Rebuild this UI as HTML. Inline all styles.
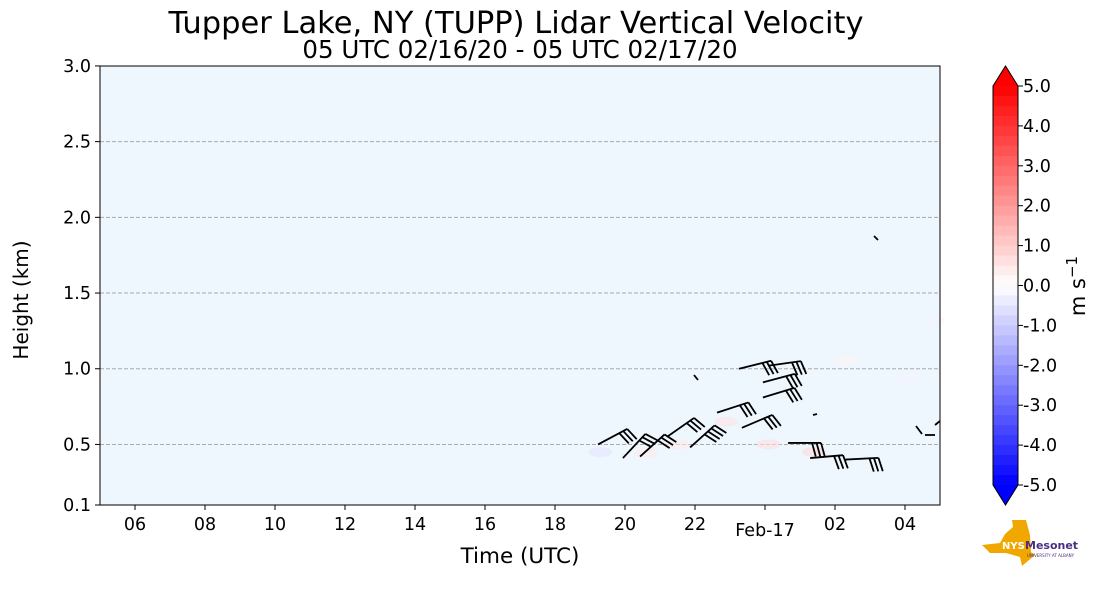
<!DOCTYPE html>
<html><head><meta charset="utf-8"><style>
body{margin:0;background:#fff;width:1101px;height:600px;overflow:hidden;font-family:"Liberation Sans","DejaVu Sans",sans-serif}
svg text{font-family:"DejaVu Sans","Liberation Sans",sans-serif}
</style></head><body>
<svg id="c" width="1101" height="600" xmlns="http://www.w3.org/2000/svg">
<text x="516" y="33" text-anchor="middle" font-size="30.5">Tupper Lake, NY (TUPP) Lidar Vertical Velocity</text>
<text x="520" y="58" text-anchor="middle" font-size="24.5">05 UTC 02/16/20 - 05 UTC 02/17/20</text>
<rect x="100" y="66" width="840" height="439" fill="#eef6fe"/>
<g id="grid"></g>
<g id="blobs"></g>
<g id="barbs"></g>
<rect x="100" y="66" width="840" height="439" fill="none" stroke="#000" stroke-width="1"/>
<g id="axes"></g>
<text x="520" y="563" text-anchor="middle" font-size="21.5">Time (UTC)</text>
<text transform="translate(28,300) rotate(-90)" text-anchor="middle" font-size="20">Height (km)</text>
<g id="cbar"></g>
<text transform="translate(1085,286) rotate(-90)" text-anchor="middle" font-size="21">m s<tspan dy="-8" font-size="15">−1</tspan></text>
<g>
<polygon points="982,545 1000,543 1005,534 1013,527 1012,520 1026,520 1030,535 1031,552 1035,555 1022,566 1020,557 1006,553 990,553" fill="#f0a800"/>
<text x="1002" y="549" font-size="10" font-weight="bold" fill="#fff">NYS</text>
<text x="1025" y="549" font-size="11" font-weight="bold" fill="#4b2e83">Mesonet</text>
<text x="1027" y="557" font-size="4" fill="#4b2e83">UNIVERSITY AT ALBANY</text>
</g>
</svg>
<script>
const NS="http://www.w3.org/2000/svg";
const xTicks=["06","08","10","12","14","16","18","20","22","Feb-17","02","04"];
const xTickHours=[1,3,5,7,9,11,13,15,17,19,21,23];
const yTicks=[0.1,0.5,1.0,1.5,2.0,2.5,3.0];
const cbTicks=[5,4,3,2,1,0,-1,-2,-3,-4,-5];
// wind barbs: hours since 05 UTC, height km, shaft direction (deg), speed (kt)
const barbTime=[14.23,14.94,15.43,16.2,16.86,17.63,18.34,18.94,18.94,18.26,19.09,20.29,19.66,21.3];
const barbHeight=[0.50,0.41,0.42,0.55,0.48,0.71,0.61,0.81,0.91,1.00,1.02,0.41,0.51,0.40];
const barbDir=[-28,-47,-42,-35,-42,-18,-23,-17,-15,-14,-8,-5,0,-3];
const barbSpeed=[25,25,25,25,35,30,25,30,30,25,30,30,25,30];
// velocity patches: time, height, velocity m/s
const blobTime=[14.3,15.6,16.5,17.9,19.1,20.4,23.1,23.8,21.3];
const blobHeight=[0.45,0.44,0.5,0.65,0.5,0.45,0.93,1.32,1.05];
const blobVel=[-0.5,0.4,0.4,0.5,0.6,0.7,-0.2,-0.2,0.2];
const X=t=>100+t*35, Y=h=>505-(h-0.1)*151.4;
function el(tag,a,p){const e=document.createElementNS(NS,tag);for(const k in a)e.setAttribute(k,a[k]);p.appendChild(e);return e;}
const g=document.getElementById('grid'),ax=document.getElementById('axes');
yTicks.forEach(v=>{
 if(v>0.1&&v<3){const l=el('line',{x1:100,x2:940,y1:Y(v),y2:Y(v),stroke:'#aaa','stroke-dasharray':'4,2','stroke-width':1},g);
 
 }
 el('line',{x1:95,x2:100,y1:Y(v),y2:Y(v),stroke:'#000'},ax);
 const t=el('text',{x:91,y:Y(v)+6,'text-anchor':'end','font-size':17.5},ax);t.textContent=v.toFixed(1);
 
 
});
xTicks.forEach((s,i)=>{
 const x=X(xTickHours[i]);
 el('line',{x1:x,x2:x,y1:505,y2:510,stroke:'#000'},ax);
 const t=el('text',{x:x,y:s.length>2?536:530,'text-anchor':'middle','font-size':17.5},ax);t.textContent=s;
 
 
});
function bwr(v){let f=(v+5)/10;f=Math.max(0,Math.min(1,f));let r,gg,b;
 if(f<0.5){r=gg=Math.round(255*f*2);b=255;}else{r=255;gg=b=Math.round(255*(1-f)*2);}return `rgb(${r},${gg},${b})`;}
const bl=document.getElementById('blobs');
blobTime.forEach((t,i)=>{const e=el('ellipse',{cx:X(t),cy:Y(blobHeight[i]),rx:12,ry:5,fill:bwr(blobVel[i]),opacity:0.6},bl);
 
 });
const bb=document.getElementById('barbs');
barbTime.forEach((t,i)=>{
 const gr=el('g',{},bb);
 
 
 const x0=X(t),y0=Y(barbHeight[i]),a=barbDir[i]*Math.PI/180,L=33;
 const ex=x0+L*Math.cos(a),ey=y0+L*Math.sin(a);
 el('line',{x1:x0,y1:y0,x2:ex,y2:ey,stroke:'#000','stroke-width':1.8},gr);
 const n=Math.round(barbSpeed[i]/10),fa=a+75*Math.PI/180;
 for(let k=0;k<n;k++){const px=ex-k*4.5*Math.cos(a),py=ey-k*4.5*Math.sin(a);
  el('line',{x1:px,y1:py,x2:px+14*Math.cos(fa),y2:py+14*Math.sin(fa),stroke:'#000','stroke-width':1.8},gr);}
});
[[874,236,878,240],[694,375,698,380],[916,426,922,434],[925,435,935,435],[935,425,940,421],[813,415,817,414]].forEach(m=>{
 const l=el('line',{x1:m[0],y1:m[1],x2:m[2],y2:m[3],stroke:'#000','stroke-width':1.8},bb);
 
 });
const cb=document.getElementById('cbar');
const cTop=86,cBot=485,cx=993,cw=25,nb=40,bh=(cBot-cTop)/nb;
for(let k=0;k<nb;k++){const v=5-(k+0.5)*0.25;el('rect',{x:cx,y:cTop+k*bh,width:cw,height:bh+0.5,fill:bwr(v)},cb);}
el('polygon',{points:`${cx},${cTop} ${cx+cw/2},66 ${cx+cw},${cTop}`,fill:'#f00'},cb);
el('polygon',{points:`${cx},${cBot} ${cx+cw/2},505 ${cx+cw},${cBot}`,fill:'#00f'},cb);
const o=el('polygon',{points:`${cx},${cTop} ${cx+cw/2},66 ${cx+cw},${cTop} ${cx+cw},${cBot} ${cx+cw/2},505 ${cx},${cBot}`,fill:'none',stroke:'#000'},cb);


cbTicks.forEach(v=>{const y=cTop+(5-v)/10*(cBot-cTop);
 el('line',{x1:cx+cw,x2:cx+cw+5,y1:y,y2:y,stroke:'#000'},cb);
 const t=el('text',{x:1023,y:y+6,'font-size':17.5},cb);t.textContent=v.toFixed(1);
 
 });
</script>
</body></html>
